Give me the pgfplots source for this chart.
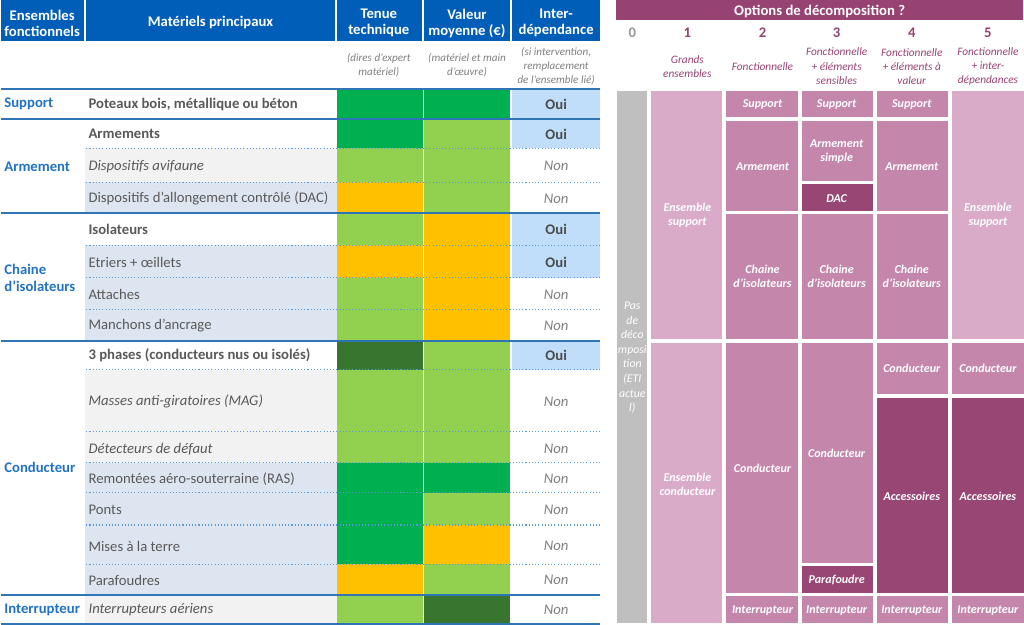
\documentclass[border=0pt]{standalone}
\usepackage{fontspec}
\setmainfont{Carlito}
\usepackage{pgfplots}
\pgfplotsset{compat=1.18}
\definecolor{hdrblue}{RGB}{0,94,184}
\definecolor{lineblue}{RGB}{47,117,181}
\definecolor{dotblue}{RGB}{91,155,213}
\definecolor{ensblue}{RGB}{34,114,196}
\definecolor{matgray}{RGB}{242,242,242}
\definecolor{matblue}{RGB}{221,230,240}
\definecolor{ouiblue}{RGB}{192,221,250}
\definecolor{gr}{RGB}{0,176,80}
\definecolor{lg}{RGB}{146,208,80}
\definecolor{dg}{RGB}{56,117,47}
\definecolor{og}{RGB}{255,192,0}
\definecolor{txtgray}{RGB}{89,89,89}
\definecolor{nongray}{RGB}{127,127,127}
\definecolor{purp}{RGB}{150,66,114}
\definecolor{pdark}{RGB}{152,70,116}
\definecolor{pmed}{RGB}{197,134,172}
\definecolor{plight}{RGB}{218,170,201}
\definecolor{colgray}{RGB}{191,191,191}
\newcommand{\cell}[5]{\addplot[fill=#5,draw=none] coordinates {(#1,#2) (#3,#2) (#3,#4) (#1,#4)};}
\newcommand{\row}[6]{\cell{84}{#1}{335}{#2}{#3}\cell{335}{#1}{421}{#2}{#4}\cell{422}{#1}{508}{#2}{#5}\cell{510}{#1}{598}{#2}{#6}}
\newcommand{\hl}[1]{\addplot[lineblue,line width=1.5pt] coordinates {(0,#1) (598,#1)};}
\newcommand{\dl}[1]{\addplot[dotblue,line width=0.8pt,dash pattern=on 0.8pt off 1.6pt] coordinates {(85,#1) (598,#1)};}
\newcommand{\bg}{\fontsize{11}{12}\selectfont}
\newcommand{\sm}{\fontsize{8.3}{10.5}\selectfont}
\newcommand{\cl}{\fontsize{9}{10.5}\selectfont}
\begin{document}
\begin{tikzpicture}
\begin{axis}[width=768pt,height=468.75pt,scale only axis,xmin=0,xmax=1024,ymin=0,ymax=625,y dir=reverse,hide axis,clip=false]
% header left
\cell{0}{1}{83}{42}{hdrblue}
\cell{85}{1}{333}{42}{hdrblue}
\cell{335}{1}{420}{42}{hdrblue}
\cell{422}{1}{508}{42}{hdrblue}
\cell{510}{1}{598}{42}{hdrblue}
% rows
\row{90}{120}{white}{gr}{gr}{ouiblue}
\row{120}{149}{white}{gr}{lg}{ouiblue}
\row{149}{183}{matgray}{lg}{lg}{white}
\row{183}{214}{matblue}{og}{lg}{white}
\row{214}{246}{white}{lg}{og}{ouiblue}
\row{246}{278}{matblue}{og}{og}{ouiblue}
\row{278}{310}{matblue}{lg}{og}{white}
\row{310}{341}{matblue}{lg}{og}{white}
\row{341}{370}{white}{dg}{lg}{ouiblue}
\row{370}{432}{matgray}{lg}{lg}{white}
\row{432}{463}{matgray}{lg}{lg}{white}
\row{463}{493}{matblue}{gr}{gr}{white}
\row{493}{525}{matblue}{gr}{lg}{white}
\row{525}{564}{matblue}{gr}{og}{white}
\row{564}{595}{matblue}{og}{lg}{white}
\row{595}{623}{matgray}{lg}{dg}{white}
% lines
\dl{149}\dl{183}\dl{246}\dl{278}\dl{310}\dl{370}\dl{432}\dl{463}\dl{493}\dl{525}\dl{564}
\hl{90}\hl{120}\hl{214}\hl{341}\hl{595}\hl{623.5}
% right panel
\cell{614}{1}{1020}{21}{purp}
\cell{615}{92}{645}{623}{colgray}
\cell{649}{92}{720}{339}{plight}
\cell{649}{343}{720}{623}{plight}
\cell{724}{92}{795}{118}{pmed}
\cell{724}{122}{795}{212}{pmed}
\cell{724}{215}{795}{339}{pmed}
\cell{724}{343}{795}{593}{pmed}
\cell{724}{596}{795}{623}{pmed}
\cell{799}{92}{870}{118}{pmed}
\cell{799}{122}{870}{182}{pmed}
\cell{799}{185}{870}{212}{pdark}
\cell{799}{215}{870}{339}{pmed}
\cell{799}{343}{870}{563}{pmed}
\cell{799}{566}{870}{593}{pdark}
\cell{799}{596}{870}{623}{pmed}
\cell{874}{92}{945}{118}{pmed}
\cell{874}{122}{945}{212}{pmed}
\cell{874}{215}{945}{339}{pmed}
\cell{874}{343}{945}{394}{pmed}
\cell{874}{398}{945}{593}{pdark}
\cell{874}{596}{945}{623}{pmed}
\cell{949}{92}{1021}{339}{plight}
\cell{949}{343}{1021}{394}{pmed}
\cell{949}{398}{1021}{593}{pdark}
\cell{949}{596}{1021}{623}{pmed}
% ---- text left header
\begin{scope}[every node/.style={align=center,text=white,font=\bg\bfseries}]
\node at (axis cs:41,24) {Ensembles\\fonctionnels};
\node at (axis cs:209,23) {Matériels principaux};
\node at (axis cs:377,24) {Tenue\\technique};
\node at (axis cs:465,24) {Valeur\\moyenne (€)};
\node at (axis cs:554,24) {Inter-\\dépendance};
\end{scope}
\begin{scope}[every node/.style={align=center,text=nongray,font=\sm\itshape}]
\node at (axis cs:377,66) {(dires d'expert\\matériel)};
\node at (axis cs:465,66) {(matériel et main\\d'œuvre)};
\node at (axis cs:554,67) {(si intervention,\\remplacement\\de l’ensemble lié)};
\end{scope}
% ensemble labels
\begin{scope}[every node/.style={anchor=west,inner sep=0pt,align=left,text=ensblue,font=\fontsize{11}{12.8}\selectfont\bfseries}]
\node at (axis cs:3,105) {Support};
\node at (axis cs:3,167) {Armement};
\node at (axis cs:3,278) {Chaine\\d’isolateurs};
\node at (axis cs:3,468) {Conducteur};
\node at (axis cs:3,610) {Interrupteur};
\end{scope}
% materials
\begin{scope}[every node/.style={anchor=west,inner sep=0pt,text=txtgray,font=\bg}]
\node[font=\bg\bfseries] at (axis cs:87,105) {Poteaux bois, métallique ou béton};
\node[font=\bg\bfseries] at (axis cs:87,135) {Armements};
\node[font=\bg\itshape] at (axis cs:87,167) {Dispositifs avifaune};
\node at (axis cs:87,199) {Dispositifs d’allongement contrôlé (DAC)};
\node[font=\bg\bfseries] at (axis cs:87,230) {Isolateurs};
\node at (axis cs:87,263) {Etriers + œillets};
\node at (axis cs:87,295) {Attaches};
\node at (axis cs:87,326) {Manchons d’ancrage};
\node[font=\bg\bfseries] at (axis cs:87,356) {3 phases (conducteurs nus ou isolés)};
\node[font=\bg\itshape] at (axis cs:87,402) {Masses anti-giratoires (MAG)};
\node[font=\bg\itshape] at (axis cs:87,449) {Détecteurs de défaut};
\node at (axis cs:87,479) {Remontées aéro-souterraine (RAS)};
\node at (axis cs:87,510) {Ponts};
\node at (axis cs:87,546) {Mises à la terre};
\node at (axis cs:87,580) {Parafoudres};
\node[font=\bg\itshape] at (axis cs:87,610) {Interrupteurs aériens};
\end{scope}
% Oui / Non
\begin{scope}[every node/.style={text=txtgray!85!black,font=\bg\bfseries}]
\node at (axis cs:554,105) {Oui};
\node at (axis cs:554,135) {Oui};
\node at (axis cs:554,230) {Oui};
\node at (axis cs:554,263) {Oui};
\node at (axis cs:554,356) {Oui};
\end{scope}
\begin{scope}[every node/.style={text=nongray,font=\bg\itshape}]
\node at (axis cs:554,167) {Non};
\node at (axis cs:554,199) {Non};
\node at (axis cs:554,295) {Non};
\node at (axis cs:554,326) {Non};
\node at (axis cs:554,402) {Non};
\node at (axis cs:554,449) {Non};
\node at (axis cs:554,479) {Non};
\node at (axis cs:554,510) {Non};
\node at (axis cs:554,546) {Non};
\node at (axis cs:554,580) {Non};
\node at (axis cs:554,610) {Non};
\end{scope}
% right header
\node[text=white,font=\bg\bfseries] at (axis cs:817,12) {Options de décomposition ?};
\begin{scope}[every node/.style={text=purp,font=\bg\bfseries}]
\node[text=nongray!80] at (axis cs:630,34) {0};
\node at (axis cs:685,34) {1};
\node at (axis cs:760,34) {2};
\node at (axis cs:834,34) {3};
\node at (axis cs:909,34) {4};
\node at (axis cs:985,34) {5};
\end{scope}
\begin{scope}[every node/.style={align=center,text=purp,font=\fontsize{8.5}{10.5}\selectfont\itshape}]
\node at (axis cs:685,67) {Grands\\ensembles};
\node at (axis cs:760,67) {Fonctionnelle};
\node at (axis cs:834,67) {Fonctionnelle\\+ éléments\\sensibles};
\node at (axis cs:909,67) {Fonctionnelle\\+ éléments à\\valeur};
\node at (axis cs:985,67) {Fonctionnelle\\+ inter-\\dépendances};
\end{scope}
% right cell labels
\begin{scope}[every node/.style={align=center,text=white,font=\cl\bfseries\itshape}]
\node at (axis cs:685,216) {Ensemble\\support};
\node at (axis cs:685,484) {Ensemble\\conducteur};
\node at (axis cs:760,105) {Support};
\node at (axis cs:760,167) {Armement};
\node at (axis cs:760,277) {Chaine\\d’isolateurs};
\node at (axis cs:760,468) {Conducteur};
\node at (axis cs:760,610) {Interrupteur};
\node at (axis cs:834,105) {Support};
\node at (axis cs:834,152) {Armement\\simple};
\node at (axis cs:834,199) {DAC};
\node at (axis cs:834,277) {Chaine\\d’isolateurs};
\node at (axis cs:834,453) {Conducteur};
\node at (axis cs:834,580) {Parafoudre};
\node at (axis cs:834,610) {Interrupteur};
\node at (axis cs:909,105) {Support};
\node at (axis cs:909,167) {Armement};
\node at (axis cs:909,277) {Chaine\\d’isolateurs};
\node at (axis cs:909,369) {Conducteur};
\node at (axis cs:909,496) {Accessoires};
\node at (axis cs:909,610) {Interrupteur};
\node at (axis cs:985,216) {Ensemble\\support};
\node at (axis cs:985,369) {Conducteur};
\node at (axis cs:985,496) {Accessoires};
\node at (axis cs:985,610) {Interrupteur};
\end{scope}
\node[align=center,text=white,font=\fontsize{8.8}{10.9}\selectfont\itshape] at (axis cs:630,358) {Pas\\de\\déco\\mposi\\tion\\(ETI\\actue\\l)};
\end{axis}
\end{tikzpicture}
\end{document}
